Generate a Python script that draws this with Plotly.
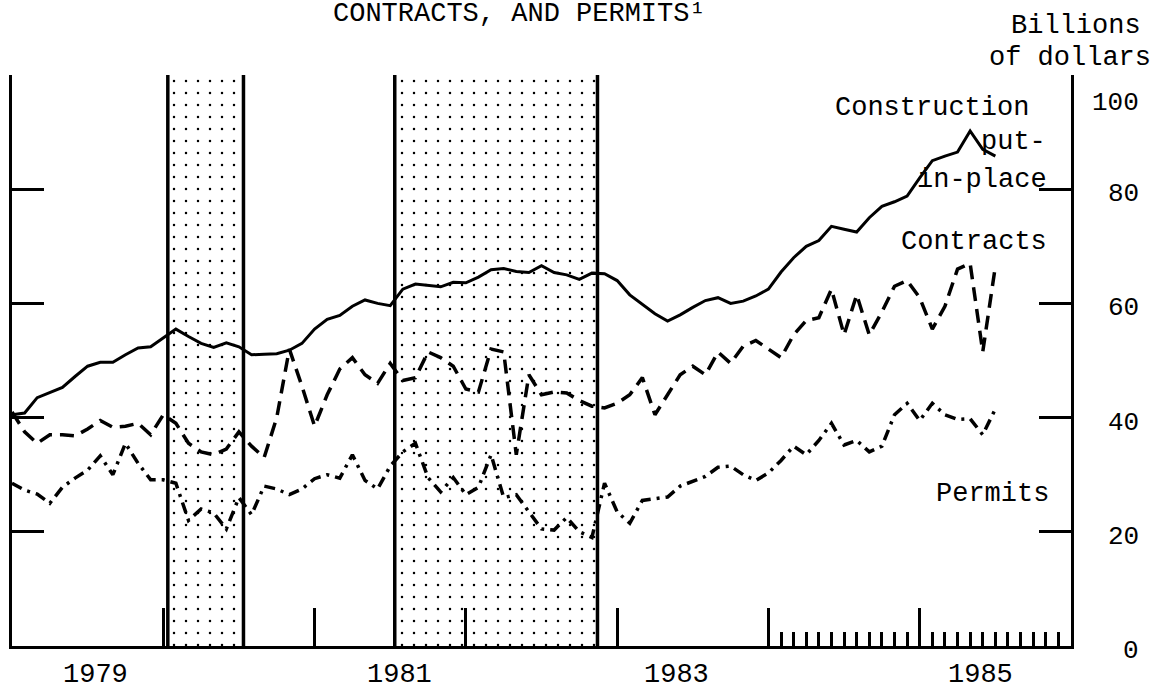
import plotly.graph_objects as go

START_YEAR = 1979

# monthly values, billions of dollars, Jan 1979 onward
CONSTRUCTION = [
    40.5, 40.8, 43.5, 44.4, 45.3, 47.2, 49.0, 49.7, 49.7, 51.0, 52.2, 52.4,
    54.0, 55.5, 54.2, 53.0, 52.3, 53.1, 52.4, 51.0, 51.1, 51.2, 51.8, 53.0,
    55.5, 57.2, 57.9, 59.5, 60.6, 60.0, 59.6, 62.5, 63.4, 63.1, 62.9, 63.7,
    63.6, 64.6, 65.9, 66.1, 65.6, 65.4, 66.6, 65.4, 65.0, 64.2, 65.3, 65.2,
    64.0, 61.5, 59.8, 58.2, 56.9, 58.0, 59.3, 60.5, 61.0, 60.0, 60.4, 61.3,
    62.5, 65.5, 68.0, 70.0, 71.0, 73.5, 73.0, 72.5, 75.0, 77.0, 77.8, 78.8,
    82.0, 85.0, 85.8, 86.5, 90.2, 87.0, 85.8,
]
CONTRACTS = [
    41.0, 37.5, 35.5, 37.0, 37.0, 36.8, 38.0, 39.5, 38.3, 38.5, 39.0, 37.0,
    40.5, 39.0, 35.5, 34.0, 33.5, 34.5, 37.5, 35.0, 33.0, 40.0, 52.0, 45.5,
    38.5, 44.0, 48.5, 50.5, 47.5, 46.0, 49.5, 46.5, 47.0, 51.5, 50.5, 49.0,
    45.0, 44.5, 52.0, 51.5, 33.5, 47.5, 44.0, 44.5, 44.3, 43.0, 42.0, 41.7,
    42.5, 44.0, 47.0, 40.5, 44.0, 47.5, 49.0, 47.5, 51.5, 49.5, 52.5, 53.5,
    52.0, 50.5, 54.5, 57.0, 57.5, 62.5, 54.5, 61.5, 54.5, 58.5, 63.0, 64.0,
    61.0, 55.5, 59.5, 66.0, 67.0, 51.5, 66.5,
]
PERMITS = [
    28.5, 27.3, 26.6, 25.0, 27.8, 29.4, 30.8, 33.3, 30.0, 35.5, 32.0, 29.1,
    29.1, 28.5, 22.0, 24.0, 23.3, 20.5, 26.0, 23.0, 28.0, 27.5, 26.5, 27.5,
    29.3, 30.0, 29.4, 33.5, 29.0, 27.5, 31.5, 34.0, 35.5, 29.5, 27.0, 29.5,
    26.5, 27.8, 33.5, 26.0, 26.5, 23.5, 20.5, 20.3, 22.5, 20.0, 19.0, 28.5,
    23.5, 21.5, 25.5, 25.8, 26.1, 28.0, 28.8, 29.7, 31.3, 31.5, 30.0, 29.0,
    30.3, 32.5, 35.0, 33.5, 36.0, 39.0, 35.2, 36.0, 34.0, 35.0, 40.5, 42.5,
    39.5, 42.5, 40.5, 39.7, 39.8, 37.0, 41.5,
]

RECESSION_START = [1980.03, 1981.53]
RECESSION_END = [1980.53, 1982.87]

YEAR_TICKS = [1980, 1981, 1982, 1983, 1984, 1985]
MONTH_TICKS = [1984 + k / 12 for k in range(1, 12)] + [1985 + k / 12 for k in range(1, 12)]
YEAR_LABELS = ["1979", "1981", "1983", "1985"]
YEAR_LABEL_POS = [1979.55, 1981.56, 1983.39, 1985.40]

Y_TICKS = [0, 20, 40, 60, 80, 100]
Y_TICK_TEXT = ["0", "20", "40", "60", "80", "100"]

W, H = 1155, 692
# plot frame in pixels
PLOT_L, PLOT_R, PLOT_T, PLOT_B = 12, 1071, 75, 646

FONT = dict(family="Liberation Mono, Courier New, monospace", size=27, color="black")
TICK_FONT = dict(family="Liberation Mono, Courier New, monospace", size=26, color="black")


def px_x(px: float) -> float:
    return (px - PLOT_L) / (PLOT_R - PLOT_L)


def px_y(py: float) -> float:
    return (PLOT_B - py) / (PLOT_B - PLOT_T)


def months(n: int) -> list[float]:
    return [START_YEAR + m / 12 for m in range(n)]


def main() -> None:
    fig = go.Figure()

    # shaded recessions
    for s, e in zip(RECESSION_START, RECESSION_END):
        fig.add_trace(
            go.Bar(
                x=[(s + e) / 2],
                y=[100],
                width=[e - s],
                marker=dict(
                    color="white",
                    line=dict(width=0),
                    pattern=dict(shape=".", size=12, solidity=0.035,
                                 fgcolor="black", bgcolor="white", fgopacity=1),
                ),
                hoverinfo="skip",
                showlegend=False,
            )
        )
        for xv in (s, e):
            fig.add_shape(type="line", xref="x", yref="y", x0=xv, x1=xv, y0=0, y1=100,
                          line=dict(color="black", width=3.5))

    fig.add_trace(
        go.Scatter(x=months(len(CONSTRUCTION)), y=CONSTRUCTION, mode="lines",
                   line=dict(color="black", width=3), showlegend=False)
    )
    fig.add_trace(
        go.Scatter(x=months(len(CONTRACTS)), y=CONTRACTS, mode="lines",
                   line=dict(color="black", width=3.5, dash="14px,8px"), showlegend=False)
    )
    fig.add_trace(
        go.Scatter(x=months(len(PERMITS)), y=PERMITS, mode="lines",
                   line=dict(color="black", width=3.5, dash="11px,6px,3px,6px"), showlegend=False)
    )

    ann = []
    # series labels
    ann.append(dict(x=1985.08, y=94.2, text="Construction"))
    ann.append(dict(x=1985.62, y=88.3, text="put-"))
    ann.append(dict(x=1985.41, y=81.6, text="in-place"))
    ann.append(dict(x=1985.36, y=70.8, text="Contracts"))
    ann.append(dict(x=1985.48, y=26.6, text="Permits"))
    for a in ann:
        a.update(xref="x", yref="y", showarrow=False, font=FONT, xanchor="center", yanchor="middle")

    # right axis labels (the scanned frame is slightly tilted, so they sit a little lower)
    for v, t in zip(Y_TICKS, Y_TICK_TEXT):
        ann.append(dict(x=px_x(1141), y=v, xref="paper", yref="y", text=t, showarrow=False,
                        font=TICK_FONT, xanchor="right", yanchor="middle",
                        yshift=-28 if v == 100 else -5))

    # year labels
    for xv, t in zip(YEAR_LABEL_POS, YEAR_LABELS):
        ann.append(dict(x=xv, y=px_y(H), xref="x", yref="paper", text=t, showarrow=False,
                        font=FONT, xanchor="center", yanchor="bottom"))

    ann.append(dict(x=px_x(1076), y=px_y(26), xref="paper", yref="paper", text="Billions",
                    showarrow=False, font=FONT, xanchor="center", yanchor="middle"))
    ann.append(dict(x=px_x(1070), y=px_y(58), xref="paper", yref="paper", text="of dollars",
                    showarrow=False, font=FONT, xanchor="center", yanchor="middle"))
    ann.append(dict(x=px_x(331), y=px_y(14), xref="paper", yref="paper",
                    text="CONTRACTS, AND PERMITS¹", showarrow=False, font=FONT,
                    xanchor="left", yanchor="middle"))

    fig.update_layout(
        width=W,
        height=H,
        margin=dict(l=PLOT_L, r=W - PLOT_R, t=PLOT_T, b=H - PLOT_B, autoexpand=False),
        paper_bgcolor="white",
        plot_bgcolor="white",
        barmode="overlay",
        showlegend=False,
        annotations=ann,
        xaxis=dict(
            range=[1979, 1986],
            showgrid=False,
            zeroline=False,
            showline=True,
            linecolor="black",
            linewidth=3,
            ticks="inside",
            tickmode="array",
            tickvals=YEAR_TICKS,
            ticklen=38,
            tickwidth=3,
            tickcolor="black",
            showticklabels=False,
            minor=dict(tickmode="array", tickvals=MONTH_TICKS, ticks="inside",
                       ticklen=14, tickwidth=2.5, tickcolor="black", showgrid=False),
        ),
        yaxis=dict(
            range=[0, 100],
            showgrid=False,
            zeroline=False,
            showline=True,
            mirror="ticks",
            linecolor="black",
            linewidth=3,
            ticks="inside",
            tickmode="array",
            tickvals=Y_TICKS[1:],
            ticklen=32,
            tickwidth=3,
            tickcolor="black",
            showticklabels=False,
        ),
    )

    # the default page body has an 8px margin; drop it so the figure fills the window
    fig.write_html(
        "out.html",
        config={"displayModeBar": False},
        post_script="document.body.style.margin = '0px';",
    )


if __name__ == "__main__":
    main()
